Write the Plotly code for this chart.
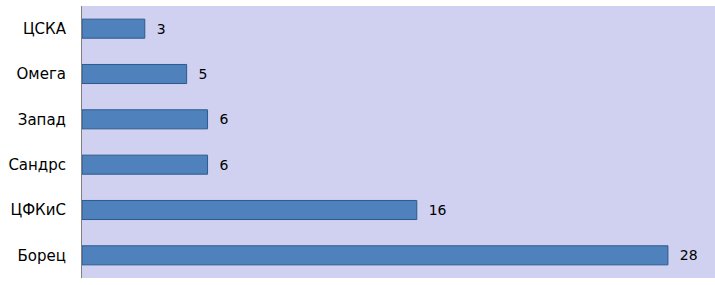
import plotly.graph_objects as go

categories = ["ЦСКА", "Омега", "Запад", "Сандрс", "ЦФКиС", "Борец"]
values = [3, 5, 6, 6, 16, 28]

fig = go.Figure(go.Bar(
    x=values, y=categories, orientation="h",
    marker=dict(color="#4F81BD", line=dict(color="#2C5A8C", width=1)),
    text=["  " + str(v) for v in values], textposition="outside",
    textfont=dict(family="DejaVu Sans", size=14, color="#000000"),
    constraintext="none",
    cliponaxis=False,
))

fig.update_layout(
    width=715, height=285,
    margin=dict(l=82, r=0, t=6, b=7),
    paper_bgcolor="white", plot_bgcolor="#D0D0F0",
    bargap=0.58, showlegend=False,
    font=dict(family="DejaVu Sans", size=15, color="#000000"),
    uniformtext=dict(mode=False),
)
fig.update_xaxes(range=[0, 30.25], showgrid=False, showticklabels=False, zeroline=False, showline=False)
fig.update_yaxes(autorange="reversed", showgrid=False, showline=True, linecolor="#808080", linewidth=1,
                 ticks="outside", ticklen=12, tickcolor="rgba(0,0,0,0)",
                 tickfont=dict(family="DejaVu Sans", size=15, color="#000000"))

fig.write_html("out.html")
